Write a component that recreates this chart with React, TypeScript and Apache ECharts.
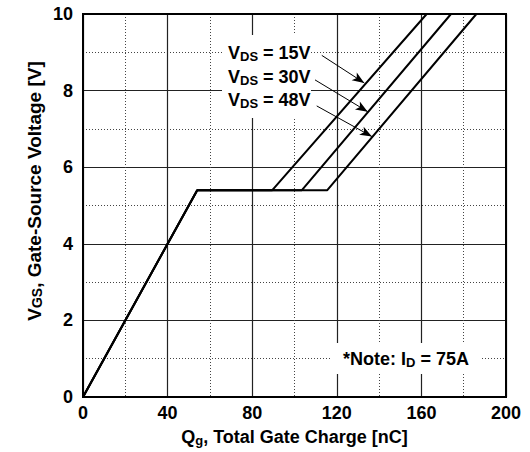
import React, { useEffect, useRef } from "react";
import * as echarts from "echarts";

// Gate charge curves (x = Qg [nC], y = VGS [V])
const chargeNc15 = [0, 54, 89.5, 162.5];
const chargeNc30 = [0, 54, 103.5, 174];
const chargeNc48 = [0, 54, 115.5, 186];
const gateVoltage = [0, 5.4, 5.4, 10];
const seriesNames = ["VDS = 15V", "VDS = 30V", "VDS = 48V"];
const labelValues = ["15V", "30V", "48V"];
// arrow annotations in data coordinates
const arrowStarts = [
  [112.9, 8.92],
  [109.7, 8.28],
  [110.5, 7.6],
];
const arrowEnds = [
  [133, 8.2],
  [134.6, 7.45],
  [136.6, 6.8],
];

const FONT = "'Liberation Sans', Arial, Helvetica, sans-serif";

export default function App() {
  const ref = useRef<HTMLDivElement>(null);
  useEffect(() => {
    if (!ref.current) return;
    const chart = echarts.init(ref.current, undefined, { renderer: "svg" });
    const curves = [chargeNc15, chargeNc30, chargeNc48];
    const mainRich = { fontSize: 18, fontWeight: "bold", fontFamily: FONT, color: "#000", lineHeight: 20, verticalAlign: "middle" };
    const subRich = { fontSize: 13, fontWeight: "bold", fontFamily: FONT, color: "#000", lineHeight: 16, verticalAlign: "bottom" };
    const yRich = { ...mainRich, fontSize: 19 };
    const ySub = { ...subRich, fontSize: 14 };
    const option: any = {
      animation: false,
      backgroundColor: "#fff",
      grid: {
        left: 83,
        right: 24,
        top: 14,
        bottom: 54,
        show: true,
        borderColor: "#000",
        borderWidth: 2,
        backgroundColor: "transparent",
        z: 3,
      },
      xAxis: {
        type: "value",
        min: 0,
        max: 200,
        interval: 40,
        axisLine: { show: false },
        axisTick: { show: false },
        minorTick: { show: false, splitNumber: 2 },
        splitLine: { show: true, lineStyle: { color: "#222", width: 1.2 } },
        minorSplitLine: { show: true, lineStyle: { color: "#444", width: 1, type: [1, 2] } },
        axisLabel: { fontSize: 18, fontWeight: "bold", fontFamily: FONT, color: "#000", margin: 7 },
        name: "{a|Q}{s|g}{a|, Total Gate Charge [nC]}",
        nameLocation: "middle",
        nameGap: 30,
        nameTextStyle: { rich: { a: mainRich, s: subRich } },
      },
      yAxis: {
        type: "value",
        min: 0,
        max: 10,
        interval: 2,
        axisLine: { show: false },
        axisTick: { show: false },
        minorTick: { show: false, splitNumber: 2 },
        splitLine: { show: true, lineStyle: { color: "#222", width: 1.2 } },
        minorSplitLine: { show: true, lineStyle: { color: "#444", width: 1, type: [1, 2] } },
        axisLabel: { fontSize: 18, fontWeight: "bold", fontFamily: FONT, color: "#000", margin: 10 },
      },
      series: curves.map((xs, i) => ({
        type: "line",
        name: seriesNames[i],
        data: xs.map((x, j) => [x, gateVoltage[j]]),
        symbol: "none",
        lineStyle: { color: "#000", width: 2 },
        z: 5,
        markLine: {
          silent: true,
          symbol: ["none", "arrow"],
          symbolSize: [7, 12],
          label: { show: false },
          lineStyle: { color: "#000", width: 1, type: "solid" },
          data: [[{ coord: arrowStarts[i] }, { coord: arrowEnds[i] }]],
        },
      })),
      graphic: [
        {
          type: "rect",
          shape: { x: 222, y: 35, width: 89, height: 83 },
          style: { fill: "#fff" },
          z: 10,
        },
        ...labelValues.map((v, i) => ({
          type: "text",
          x: 228,
          y: 53 + i * 23.5,
          z: 11,
          style: {
            text: `{v|V}{s|DS}{v| = ${v}}`,
            rich: { v: mainRich, s: subRich },
            textAlign: "left",
            textVerticalAlign: "middle",
            align: "left",
            verticalAlign: "middle",
          },
        })),
        {
          type: "rect",
          shape: { x: 332, y: 343, width: 150, height: 31 },
          style: { fill: "#fff" },
          z: 10,
        },
        {
          type: "text",
          x: 343,
          y: 358.5,
          z: 11,
          style: {
            text: "{v|*Note: I}{s|D}{v| = 75A}",
            rich: { v: mainRich, s: subRich },
            textAlign: "left",
            textVerticalAlign: "middle",
            align: "left",
            verticalAlign: "middle",
          },
        },
        {
          type: "text",
          x: 34,
          y: 191,
          rotation: Math.PI / 2,
          z: 11,
          style: {
            text: "{v|V}{s|GS}{v|, Gate-Source Voltage [V]}",
            rich: { v: yRich, s: ySub },
            textAlign: "center",
            textVerticalAlign: "middle",
            align: "center",
            verticalAlign: "middle",
          },
        },
      ],
    };
    chart.setOption(option);
    return () => chart.dispose();
  }, []);
  return <div ref={ref} style={{ width: 530, height: 452, position: "absolute", left: 0, top: 0 }} />;
}
